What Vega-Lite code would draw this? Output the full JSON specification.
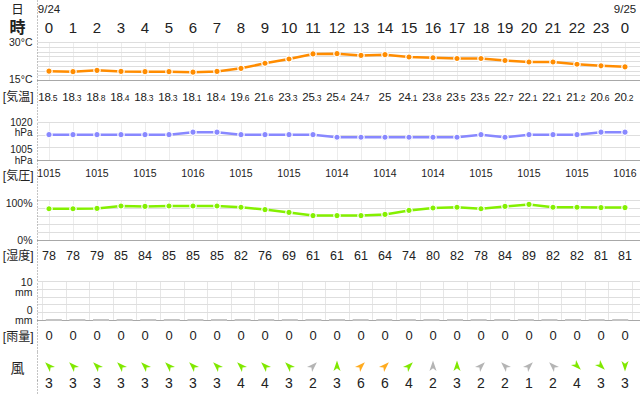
{
  "$schema": "https://vega.github.io/schema/vega-lite/v6.json",
  "padding": 0,
  "spacing": 0,
  "bounds": "flush",
  "datasets": {
    "wx": [
      {"hour": 0, "hl": "0", "temp": 18.5, "pres": 1015, "hum": 78, "rain": 0, "ws": 3, "dir": 315},
      {"hour": 1, "hl": "1", "temp": 18.3, "pres": 1015, "hum": 78, "rain": 0, "ws": 3, "dir": 315},
      {"hour": 2, "hl": "2", "temp": 18.8, "pres": 1015, "hum": 79, "rain": 0, "ws": 3, "dir": 315},
      {"hour": 3, "hl": "3", "temp": 18.4, "pres": 1015, "hum": 85, "rain": 0, "ws": 3, "dir": 315},
      {"hour": 4, "hl": "4", "temp": 18.3, "pres": 1015, "hum": 84, "rain": 0, "ws": 3, "dir": 315},
      {"hour": 5, "hl": "5", "temp": 18.3, "pres": 1015, "hum": 85, "rain": 0, "ws": 3, "dir": 315},
      {"hour": 6, "hl": "6", "temp": 18.1, "pres": 1016, "hum": 85, "rain": 0, "ws": 3, "dir": 315},
      {"hour": 7, "hl": "7", "temp": 18.4, "pres": 1016, "hum": 85, "rain": 0, "ws": 3, "dir": 315},
      {"hour": 8, "hl": "8", "temp": 19.6, "pres": 1015, "hum": 82, "rain": 0, "ws": 4, "dir": 315},
      {"hour": 9, "hl": "9", "temp": 21.6, "pres": 1015, "hum": 76, "rain": 0, "ws": 4, "dir": 315},
      {"hour": 10, "hl": "10", "temp": 23.3, "pres": 1015, "hum": 69, "rain": 0, "ws": 3, "dir": 315},
      {"hour": 11, "hl": "11", "temp": 25.3, "pres": 1015, "hum": 61, "rain": 0, "ws": 2, "dir": 45},
      {"hour": 12, "hl": "12", "temp": 25.4, "pres": 1014, "hum": 61, "rain": 0, "ws": 3, "dir": 0},
      {"hour": 13, "hl": "13", "temp": 24.7, "pres": 1014, "hum": 61, "rain": 0, "ws": 6, "dir": 45},
      {"hour": 14, "hl": "14", "temp": 25, "pres": 1014, "hum": 64, "rain": 0, "ws": 6, "dir": 45},
      {"hour": 15, "hl": "15", "temp": 24.1, "pres": 1014, "hum": 74, "rain": 0, "ws": 4, "dir": 45},
      {"hour": 16, "hl": "16", "temp": 23.8, "pres": 1014, "hum": 80, "rain": 0, "ws": 2, "dir": 0},
      {"hour": 17, "hl": "17", "temp": 23.5, "pres": 1014, "hum": 82, "rain": 0, "ws": 3, "dir": 0},
      {"hour": 18, "hl": "18", "temp": 23.5, "pres": 1015, "hum": 78, "rain": 0, "ws": 2, "dir": 45},
      {"hour": 19, "hl": "19", "temp": 22.7, "pres": 1014, "hum": 84, "rain": 0, "ws": 2, "dir": 315},
      {"hour": 20, "hl": "20", "temp": 22.1, "pres": 1015, "hum": 89, "rain": 0, "ws": 1, "dir": 45},
      {"hour": 21, "hl": "21", "temp": 22.1, "pres": 1015, "hum": 82, "rain": 0, "ws": 2, "dir": 315},
      {"hour": 22, "hl": "22", "temp": 21.2, "pres": 1015, "hum": 82, "rain": 0, "ws": 4, "dir": 135},
      {"hour": 23, "hl": "23", "temp": 20.6, "pres": 1016, "hum": 81, "rain": 0, "ws": 3, "dir": 135},
      {"hour": 24, "hl": "0", "temp": 20.2, "pres": 1016, "hum": 81, "rain": 0, "ws": 3, "dir": 180}
    ]
  },
  "vconcat": [
    {
      "width": 603, "height": 16,
      "data": {"values": [{"hour": 0, "d": "9/24"}, {"hour": 24, "d": "9/25"}]},
      "mark": {"type": "text", "baseline": "alphabetic", "dy": 4.5, "fontSize": 11.5},
      "encoding": {
        "x": {"field": "hour", "type": "quantitative", "scale": {"domain": [-0.5, 24.625], "nice": false, "zero": false}, "axis": null},
        "y": {"datum": "日", "type": "nominal", "axis": {"labelAlign": "center", "labelPadding": 20, "labelFontSize": 12.5, "labelOffset": 1}},
        "text": {"field": "d"}
      }
    },
    {
      "width": 603, "height": 26,
      "data": {"name": "wx"},
      "mark": {"type": "text", "baseline": "alphabetic", "dy": 4.3, "fontSize": 15},
      "encoding": {
        "x": {"field": "hour", "type": "quantitative", "scale": {"domain": [-0.5, 24.625], "nice": false, "zero": false}, "axis": null},
        "y": {"datum": "時", "type": "nominal", "axis": {"labelAlign": "center", "labelPadding": 20, "labelFontSize": 16, "labelFontWeight": "bold", "labelOffset": -1.5}},
        "text": {"field": "hl"}
      }
    },
    {
      "width": 603, "height": 38,
      "data": {"name": "wx"},
      "encoding": {
        "x": {"field": "hour", "type": "quantitative", "scale": {"domain": [-0.5, 24.625], "nice": false, "zero": false},
              "axis": {"values": [0,1,2,3,4,5,6,7,8,9,10,11,12,13,14,15,16,17,18,19,20,21,22,23,24], "grid": true, "gridColor": "#ececec", "labels": false, "domain": false}},
        "y": {"field": "temp", "type": "quantitative", "scale": {"domain": [15, 30], "nice": false, "zero": false},
              "axis": {"values": [15, 16.875, 18.75, 20.625, 22.5, 24.375, 26.25, 28.125, 30], "grid": true,
                       "gridColor": {"condition": {"test": "datum.value == 15", "value": "#a8a8a8"}, "value": "#dedede"},
                       "labelExpr": "datum.value == 30 || datum.value == 15 ? datum.value + '°C' : ''",
                       "labelFontSize": 10.5, "labelPadding": 5,
                       "labelOffset": {"condition": {"test": "datum.value == 15", "value": -1}, "value": 0}}}
      },
      "layer": [
        {"mark": {"type": "line", "color": "#ff8c00", "strokeWidth": 2.5}},
        {"mark": {"type": "point", "filled": true, "color": "#ff8c00", "size": 40, "stroke": "white", "strokeWidth": 1.2, "opacity": 1}}
      ]
    },
    {
      "width": 603, "height": 42,
      "data": {"name": "wx"},
      "transform": [
        {"calculate": "floor(datum.temp)", "as": "ti"},
        {"calculate": "datum.temp % 1 == 0 ? '' : '.' + round(datum.temp * 10 % 10)", "as": "td"}
      ],
      "encoding": {
        "x": {"field": "hour", "type": "quantitative", "scale": {"domain": [-0.5, 24.625], "nice": false, "zero": false}, "axis": null},
        "y": {"datum": "[気温]", "type": "nominal", "axis": {"labelFontSize": 12, "labelPadding": 4, "labelOffset": -5}}
      },
      "layer": [
        {"transform": [{"filter": "datum.td != ''"}], "mark": {"type": "text", "baseline": "alphabetic", "align": "right", "dx": 2, "dy": -0.3, "fontSize": 11.5}, "encoding": {"text": {"field": "ti"}}},
        {"transform": [{"filter": "datum.td != ''"}], "mark": {"type": "text", "baseline": "alphabetic", "align": "left", "dx": 1.5, "dy": -0.3, "fontSize": 8.5}, "encoding": {"text": {"field": "td"}}},
        {"transform": [{"filter": "datum.td == ''"}], "mark": {"type": "text", "baseline": "alphabetic", "align": "center", "dy": -0.3, "fontSize": 11.5}, "encoding": {"text": {"field": "ti"}}}
      ]
    },
    {
      "width": 603, "height": 38,
      "data": {"name": "wx"},
      "encoding": {
        "x": {"field": "hour", "type": "quantitative", "scale": {"domain": [-0.5, 24.625], "nice": false, "zero": false},
              "axis": {"values": [0,1,2,3,4,5,6,7,8,9,10,11,12,13,14,15,16,17,18,19,20,21,22,23,24], "grid": true, "gridColor": "#ececec", "labels": false, "domain": false}},
        "y": {"field": "pres", "type": "quantitative", "scale": {"domain": [1005, 1020], "nice": false, "zero": false},
              "axis": {"values": [1005, 1010, 1015, 1020], "grid": true,
                       "gridColor": {"condition": {"test": "datum.value == 1005", "value": "#a8a8a8"}, "value": "#dedede"},
                       "labelExpr": "datum.value == 1020 || datum.value == 1005 ? [datum.value + '', 'hPa'] : ''",
                       "labelFontSize": 10, "labelPadding": 5, "labelLineHeight": 10.5,
                       "labelOffset": {"condition": {"test": "datum.value == 1020", "value": 0}, "value": -10.5}}}
      },
      "layer": [
        {"mark": {"type": "line", "color": "#8888ff", "strokeWidth": 2.5}},
        {"mark": {"type": "point", "filled": true, "color": "#8888ff", "size": 40, "stroke": "white", "strokeWidth": 1.2, "opacity": 1}}
      ]
    },
    {
      "width": 603, "height": 40,
      "data": {"name": "wx"},
      "transform": [{"filter": "datum.hour % 2 == 0"}],
      "mark": {"type": "text", "baseline": "alphabetic", "dy": -3.3, "fontSize": 10.5},
      "encoding": {
        "x": {"field": "hour", "type": "quantitative", "scale": {"domain": [-0.5, 24.625], "nice": false, "zero": false}, "axis": null},
        "y": {"datum": "[気圧]", "type": "nominal", "axis": {"labelFontSize": 12, "labelPadding": 4, "labelOffset": -4.5}},
        "text": {"field": "pres"}
      }
    },
    {
      "width": 603, "height": 40,
      "data": {"name": "wx"},
      "encoding": {
        "x": {"field": "hour", "type": "quantitative", "scale": {"domain": [-0.5, 24.625], "nice": false, "zero": false},
              "axis": {"values": [0,1,2,3,4,5,6,7,8,9,10,11,12,13,14,15,16,17,18,19,20,21,22,23,24], "grid": true, "gridColor": "#ececec", "labels": false, "domain": false}},
        "y": {"field": "hum", "type": "quantitative", "scale": {"domain": [0, 100], "nice": false, "zero": false},
              "axis": {"values": [0, 20, 40, 60, 80, 100], "grid": true,
                       "gridColor": {"condition": {"test": "datum.value == 0", "value": "#a8a8a8"}, "value": "#dedede"},
                       "labelExpr": "datum.value == 100 || datum.value == 0 ? datum.value + '%' : ''",
                       "labelFontSize": 10.5, "labelPadding": 5,
                       "labelOffset": {"condition": {"test": "datum.value == 100", "value": 3}, "value": 0}}}
      },
      "layer": [
        {"mark": {"type": "line", "color": "#84f000", "strokeWidth": 2.5}},
        {"mark": {"type": "point", "filled": true, "color": "#84f000", "size": 40, "stroke": "white", "strokeWidth": 1.2, "opacity": 1}}
      ]
    },
    {
      "width": 603, "height": 41,
      "data": {"name": "wx"},
      "mark": {"type": "text", "baseline": "alphabetic", "dy": -1, "fontSize": 12.5},
      "encoding": {
        "x": {"field": "hour", "type": "quantitative", "scale": {"domain": [-0.5, 24.625], "nice": false, "zero": false}, "axis": null},
        "y": {"datum": "[湿度]", "type": "nominal", "axis": {"labelFontSize": 12, "labelPadding": 4, "labelOffset": -5.5}},
        "text": {"field": "hum"}
      }
    },
    {
      "width": 603, "height": 39,
      "data": {"name": "wx"},
      "encoding": {
        "x": {"field": "hour", "type": "quantitative", "scale": {"domain": [-0.5, 24.625], "nice": false, "zero": false},
              "axis": {"values": [-0.5,0.5,1.5,2.5,3.5,4.5,5.5,6.5,7.5,8.5,9.5,10.5,11.5,12.5,13.5,14.5,15.5,16.5,17.5,18.5,19.5,20.5,21.5,22.5,23.5,24.5], "grid": true, "gridColor": "#e6e6e6", "labels": false, "domain": false}},
        "y": {"field": "rain", "type": "quantitative", "scale": {"domain": [0, 10], "nice": false, "zero": false},
              "axis": {"values": [0, 2, 4, 6, 8, 10], "grid": true,
                       "gridColor": {"condition": {"test": "datum.value == 0", "value": "#a8a8a8"}, "value": "#dedede"},
                       "labelExpr": "datum.value == 10 || datum.value == 0 ? [datum.value + '', 'mm'] : ''",
                       "labelFontSize": 10.5, "labelPadding": 5, "labelLineHeight": 10.5,
                       "labelOffset": {"condition": {"test": "datum.value == 10", "value": 1.3}, "value": -9.7}}}
      },
      "mark": {"type": "bar", "width": 16, "color": "#c4c4c4", "stroke": "#c4c4c4", "strokeWidth": 2}
    },
    {
      "width": 603, "height": 32,
      "data": {"name": "wx"},
      "mark": {"type": "text", "baseline": "alphabetic", "dy": 4, "fontSize": 13},
      "encoding": {
        "x": {"field": "hour", "type": "quantitative", "scale": {"domain": [-0.5, 24.625], "nice": false, "zero": false}, "axis": null},
        "y": {"datum": "[雨量]", "type": "nominal", "axis": {"labelFontSize": 12, "labelPadding": 4, "labelOffset": 0}},
        "text": {"field": "rain"}
      }
    },
    {
      "width": 603, "height": 28,
      "data": {"name": "wx"},
      "mark": {"type": "point", "filled": true, "opacity": 1, "size": 120, "shape": "M0,-1 L0.65,0.9 L0,0.4 L-0.65,0.9 Z"},
      "encoding": {
        "x": {"field": "hour", "type": "quantitative", "scale": {"domain": [-0.5, 24.625], "nice": false, "zero": false}, "axis": null},
        "y": {"datum": "風", "type": "nominal", "axis": {"labelAlign": "center", "labelPadding": 20, "labelFontSize": 14, "labelOffset": 2}},
        "angle": {"field": "dir", "type": "quantitative", "scale": null},
        "color": {"field": "ws", "type": "quantitative", "scale": {"type": "threshold", "domain": [3, 6], "range": ["#b4b4b4", "#80e800", "#ffab1f"]}, "legend": null}
      }
    },
    {
      "width": 603, "height": 15,
      "data": {"name": "wx"},
      "mark": {"type": "text", "baseline": "alphabetic", "dy": 0.8, "fontSize": 14},
      "encoding": {
        "x": {"field": "hour", "type": "quantitative", "scale": {"domain": [-0.5, 24.625], "nice": false, "zero": false}, "axis": null},
        "y": {"datum": "w", "type": "nominal", "axis": {"labels": false}},
        "text": {"field": "ws"}
      }
    }
  ],
  "config": {
    "view": {"stroke": null},
    "font": "'Liberation Sans', 'Noto Sans CJK JP'",
    "text": {"color": "#222"},
    "axis": {"title": null, "ticks": false, "tickSize": 0, "labelColor": "#222", "labelFlush": false, "labelOverlap": false},
    "axisY": {"domainColor": "#888", "domainDash": [1, 2], "minExtent": 37, "maxExtent": 37, "grid": false},
    "axisX": {"minExtent": 0, "maxExtent": 0, "domain": false}
  }
}
